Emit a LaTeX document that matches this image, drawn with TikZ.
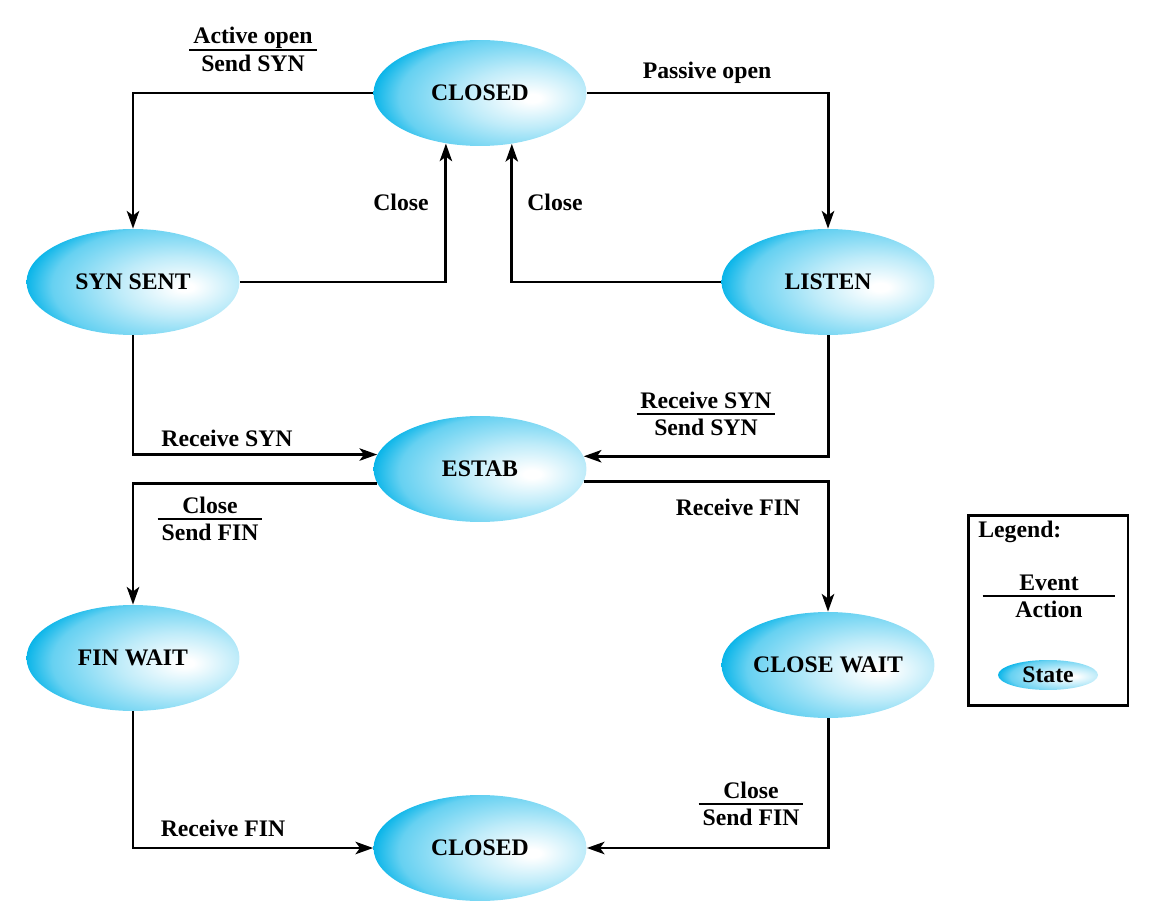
\documentclass[tikz,border=0pt]{standalone}
\usepackage{fontspec}
\setmainfont{Liberation Serif}
\usetikzlibrary{shapes.geometric,arrows.meta}
\definecolor{statecyan}{RGB}{0,178,232}
\pgfdeclareradialshading{stateshade}{\pgfpoint{12.5bp}{-2.5bp}}{color(0bp)=(white); color(2bp)=(white); color(14bp)=(statecyan!25!white); color(28bp)=(statecyan!60!white); color(34bp)=(statecyan); color(100bp)=(statecyan)}
\newcommand{\evact}[2]{\begin{tabular}{@{\,}c@{\,}}#1\\[-2pt]\hline\rule{0pt}{11.6pt}#2\end{tabular}}
\begin{document}
\begin{tikzpicture}[x=0.02cm, y=-0.02cm,
        font=\fontsize{13.5}{16}\selectfont\bfseries,
        state/.style={ellipse, shade, shading=stateshade, minimum width=4.26cm, minimum height=2.12cm, inner sep=0pt},
        trans/.style={line width=1.7pt, -{Stealth[length=10pt, width=7pt, inset=2.5pt]}}]
        \setlength{\arrayrulewidth}{1.1pt}
        \useasboundingbox (0,0) rectangle (1156,908);
        \node[state] (closed)    at (480, 93) {CLOSED};
        \node[state] (synsent)   at (133,282) {SYN SENT};
        \node[state] (listen)    at (828,282) {LISTEN};
        \node[state] (estab)     at (480,469) {ESTAB};
        \node[state] (finwait)   at (133,658) {FIN WAIT};
        \node[state] (closewait) at (828,665) {CLOSE WAIT};
        \node[state] (closedend) at (480,848) {CLOSED};
        \draw[trans] (closed.west)     -| (synsent.north);
        \draw[trans] (closed.east)     -| (listen.north);
        \draw[trans] (synsent.east)    -| (closed.-124.1);
        \draw[trans] (listen.west)     -| (closed.-58.6);
        \draw[trans] (synsent.south)   |- (estab.172.8);
        \draw[trans] (listen.south)    |- (estab.7.2);
        \draw[trans] (estab.-172.8)    -| (finwait.north);
        \draw[trans] (estab.-7.2)      -| (closewait.north);
        \draw[trans] (finwait.south)   |- (closedend.west);
        \draw[trans] (closewait.south) |- (closedend.east);
        \node (activeopen)  at (253, 52) {\evact{Active open}{Send SYN}};
        \node (passiveopen) at (707, 73) {Passive open};
        \node (closea)      at (401,202) {Close};
        \node (closeb)      at (555,202) {Close};
        \node (rcvsyna)     at (227,438) {Receive SYN};
        \node (rcvsynb)     at (706,416) {\evact{Receive SYN}{Send SYN}};
        \node (closefina)   at (210,521) {\evact{Close}{Send FIN}};
        \node (rcvfina)     at (738,507) {Receive FIN};
        \node (rcvfinb)     at (223,828) {Receive FIN};
        \node (closefinb)   at (751,806) {\evact{Close}{Send FIN}};
        % legend
        \node[draw, line width=1.7pt, minimum width=3.2cm, minimum height=3.82cm, inner sep=0pt] (legend) at (1048,610.5) {};
        \node[anchor=west, inner sep=0pt] (legendtitle) at (978,532) {Legend:};
        \node (legendevt) at (1049,598) {\evact{\makebox[2.5cm]{Event}}{Action}};
        \node[state, minimum width=2cm, minimum height=0.6cm] (legendstate) at (1048,675) {State};
\end{tikzpicture}
\end{document}
